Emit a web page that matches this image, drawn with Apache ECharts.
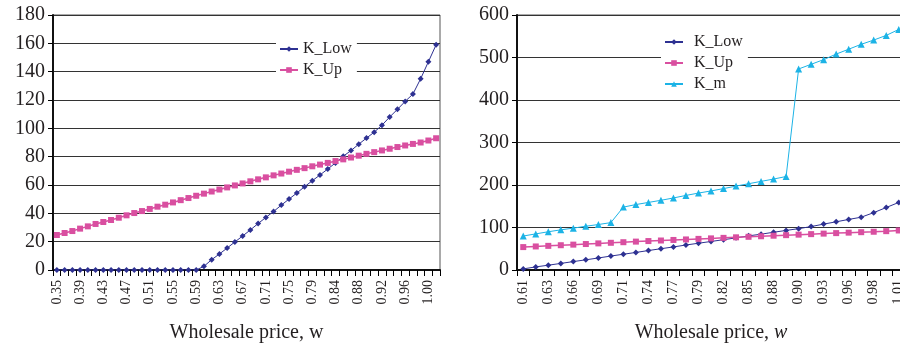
<!DOCTYPE html>
<html>
<head>
<meta charset="utf-8">
<script src="https://cdn.jsdelivr.net/npm/echarts@6/dist/echarts.min.js"></script>
<style>
  html, body { margin: 0; padding: 0; background: #fff; }
  #wrap { position: relative; width: 900px; height: 348px; overflow: hidden; }
  #left { position: absolute; left: 0; top: 0; width: 450px; height: 348px; }
  #right { position: absolute; left: 450px; top: 0; width: 450px; height: 348px; }
</style>
</head>
<body>
<div id="wrap">
  <div id="left"></div>
  <div id="right"></div>
</div>
<script>
// wholesale price categories (w)
const wLabels = ['0.35','0.36','0.38','0.39','0.40','0.42','0.43','0.44','0.46','0.47',
  '0.48','0.50','0.51','0.53','0.54','0.55','0.57','0.58','0.59','0.61',
  '0.62','0.63','0.65','0.66','0.67','0.69','0.70','0.71','0.73','0.74',
  '0.75','0.77','0.78','0.79','0.81','0.82','0.84','0.85','0.86','0.88',
  '0.89','0.90','0.92','0.93','0.94','0.96','0.97','0.98','1.00','1.01']

const kLow = [0, 0, 0, 0, 0, 0, 0, 0, 0, 0,
  0, 0, 0, 0, 0, 0, 0, 0, 0, 2.6,
  7.3, 11.3, 15.5, 19.8, 24.0, 28.3, 32.8, 37.1, 41.3, 45.8,
  50.1, 54.3, 58.8, 63.0, 67.1, 71.3, 75.6, 80.3, 84.3, 88.8,
  93.1, 97.3, 102.2, 108.0, 113.4, 119.0, 124.2, 135.0, 147.0, 159.0]

const kUp = [24.7, 26.1, 27.5, 29.2, 30.8, 32.5, 33.9, 35.3, 36.9, 38.6,
  40.2, 41.6, 43.1, 44.7, 46.1, 47.7, 49.3, 50.8, 52.4, 53.9,
  55.4, 56.8, 58.3, 59.7, 61.1, 62.6, 64.0, 65.4, 66.8, 68.1,
  69.4, 70.7, 71.9, 73.2, 74.4, 75.6, 76.9, 78.1, 79.4, 80.7,
  82.0, 83.2, 84.4, 85.6, 86.8, 87.9, 89.0, 90.0, 91.4, 93.0]

// right panel starts at w = 0.61
const rightStart = 19
const kM = [80, 85, 90, 94.5, 98.5, 103, 107, 111.5, 148, 154,
  159, 164, 169.5, 175.5, 181, 186, 191.5, 197.5, 203, 208.5,
  214, 220, 473, 484, 495, 508, 519.5, 531, 541, 552, 566]

const FONT = "'Liberation Serif', 'Times New Roman', serif"
const TXT = '#231f20'
const C_LOW = '#2e3192'
const C_UP = '#d94fa0'
const C_M = '#1cb3e6'

const lineSeries = (name, data, color, symbol, size, width) => ({
  name: name,
  type: 'line',
  data: data,
  symbol: symbol,
  symbolSize: size,
  showSymbol: true,
  showAllSymbol: true,
  animation: false,
  lineStyle: { color: color, width: width },
  itemStyle: { color: color }
})

const xAxisCfg = (cats, labelInterval, nameRich) => ({
  type: 'category',
  data: cats,
  boundaryGap: true,
  name: nameRich ? 'Wholesale price, {i|w}' : 'Wholesale price, w',
  nameLocation: 'middle',
  nameGap: 53,
  nameTextStyle: {
    fontFamily: FONT, fontSize: 20, color: TXT,
    rich: { i: { fontFamily: FONT, fontSize: 20, fontStyle: 'italic', color: TXT } }
  },
  axisLine: { show: true, onZero: false, lineStyle: { color: '#111', width: 2 } },
  axisTick: { show: true, inside: false, alignWithLabel: false, interval: 0, length: 6, lineStyle: { color: '#000', width: 1 } },
  axisLabel: {
    interval: labelInterval, rotate: 90, margin: 10,
    fontFamily: FONT, fontSize: 14, color: TXT
  },
  splitLine: { show: false }
})

const yAxisCfg = (max, step) => ({
  type: 'value',
  min: 0,
  max: max,
  interval: step,
  axisLine: { show: true, lineStyle: { color: '#111', width: 2 } },
  axisTick: { show: true, inside: false, length: 5, lineStyle: { color: '#000', width: 1 } },
  axisLabel: { margin: 8, fontFamily: FONT, fontSize: 20, color: TXT },
  splitLine: { show: true, lineStyle: { color: '#333', width: 1 } }
})

const legendCfg = (left, top, names, gapText) => ({
  orient: 'vertical',
  left: left,
  top: top,
  data: names,
  backgroundColor: '#fff',
  padding: [3, 5, 3, 3],
  itemWidth: 18,
  itemHeight: 7,
  itemGap: 5,
  textStyle: { fontFamily: FONT, fontSize: 16, color: TXT, padding: [0, 0, 0, gapText] }
})

const leftChart = echarts.init(document.getElementById('left'))
leftChart.setOption({
  animation: false,
  grid: {
    left: 53, top: 15, width: 387, height: 255, containLabel: false, outerBoundsMode: 'none',
    show: true, borderColor: '#555', borderWidth: 1
  },
  legend: legendCfg(276, 38, ['K_Low', 'K_Up'], 0),
  xAxis: xAxisCfg(wLabels, 2, false),
  yAxis: yAxisCfg(180, 20),
  series: [
    lineSeries('K_Low', kLow, C_LOW, 'diamond', 6, 1),
    lineSeries('K_Up', kUp, C_UP, 'rect', 6, 1.5)
  ]
})

const rightChart = echarts.init(document.getElementById('right'))
rightChart.setOption({
  animation: false,
  grid: {
    left: 67, top: 15, width: 388, height: 255, containLabel: false, outerBoundsMode: 'none',
    show: true, borderColor: '#555', borderWidth: 1
  },
  legend: legendCfg(211, 31, ['K_Low', 'K_Up', 'K_m'], 6),
  xAxis: xAxisCfg(wLabels.slice(rightStart), 1, true),
  yAxis: yAxisCfg(600, 100),
  series: [
    lineSeries('K_Low', kLow.slice(rightStart), C_LOW, 'diamond', 6, 1),
    lineSeries('K_Up', kUp.slice(rightStart), C_UP, 'rect', 6, 1.5),
    lineSeries('K_m', kM, C_M, 'triangle', 7, 1)
  ]
})
</script>
</body>
</html>
